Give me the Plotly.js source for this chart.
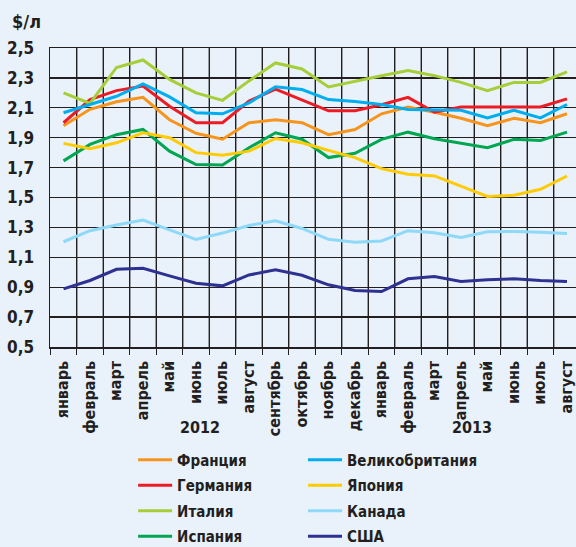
<!DOCTYPE html>
<html>
<head>
<meta charset="utf-8">
<script src="https://cdn.plot.ly/plotly-3.0.1.min.js"></script>
<style>
  html, body { margin: 0; padding: 0; background: #e9f2fa; }
  #chart { width: 576px; height: 547px; }
</style>
</head>
<body>
<div id="chart"></div>
<script>
// Months (Jan 2012 – Aug 2013)
const months = ["январь","февраль","март","апрель","май","июнь","июль","август","сентябрь","октябрь","ноябрь","декабрь",
                "январь","февраль","март","апрель","май","июнь","июль","август"];
const years = ["2012", "2013"];
const yTitle = "$/л";
const yRange = [0.5, 2.5];

// Gasoline price, $ per litre
const france  = [1.98, 2.09, 2.14, 2.17, 2.02, 1.93, 1.89, 2.00, 2.02, 2.00, 1.92, 1.955, 2.06, 2.105, 2.07, 2.03, 1.98, 2.03, 2.00, 2.06];
const germany = [2.00, 2.155, 2.215, 2.245, 2.11, 2.00, 2.00, 2.145, 2.225, 2.155, 2.08, 2.08, 2.12, 2.17, 2.07, 2.105, 2.105, 2.105, 2.105, 2.16];
const italy   = [2.20, 2.13, 2.37, 2.42, 2.29, 2.20, 2.15, 2.28, 2.40, 2.36, 2.24, 2.28, 2.315, 2.35, 2.315, 2.27, 2.215, 2.27, 2.27, 2.34];
const spain   = [1.745, 1.855, 1.92, 1.955, 1.81, 1.72, 1.718, 1.833, 1.933, 1.89, 1.767, 1.796, 1.889, 1.937, 1.893, 1.862, 1.833, 1.889, 1.882, 1.937];
const uk      = [2.067, 2.122, 2.177, 2.26, 2.173, 2.067, 2.06, 2.133, 2.24, 2.222, 2.155, 2.142, 2.122, 2.089, 2.084, 2.084, 2.033, 2.084, 2.033, 2.122];
const japan   = [1.862, 1.827, 1.866, 1.933, 1.90, 1.80, 1.782, 1.81, 1.895, 1.866, 1.815, 1.767, 1.693, 1.655, 1.644, 1.578, 1.507, 1.515, 1.555, 1.644];
const canada  = [1.204, 1.278, 1.316, 1.349, 1.283, 1.22, 1.262, 1.313, 1.344, 1.293, 1.22, 1.20, 1.209, 1.278, 1.264, 1.233, 1.271, 1.273, 1.267, 1.26];
const usa     = [0.889, 0.945, 1.02, 1.027, 0.976, 0.927, 0.909, 0.982, 1.016, 0.98, 0.916, 0.878, 0.871, 0.956, 0.971, 0.938, 0.949, 0.956, 0.944, 0.938];

const xIdx = months.map((m, i) => i);
// month boundaries: vertical grid lines + ticks; labels are shifted into the middle of each month
const boundaries = months.map((m, i) => i - 0.5).concat([months.length - 0.5]);
const boundaryText = months.concat([""]);

const FONT = "'DejaVu Sans Condensed', 'Liberation Sans Narrow', sans-serif";
const INK = "#231f20";

const series = [
  {name: "Франция",        y: france,  color: "#f7941d", legend: "legend"},
  {name: "Германия",       y: germany, color: "#ed1c24", legend: "legend"},
  {name: "Италия",         y: italy,   color: "#a6ce39", legend: "legend"},
  {name: "Испания",        y: spain,   color: "#00a651", legend: "legend"},
  {name: "Великобритания", y: uk,      color: "#00aeef", legend: "legend2"},
  {name: "Япония",         y: japan,   color: "#ffcb05", legend: "legend2"},
  {name: "Канада",         y: canada,  color: "#8ed8f8", legend: "legend2"},
  {name: "США",            y: usa,     color: "#2e3192", legend: "legend2"}
];

// vertical grid drawn through the axes (beneath the data lines)
const gridX = [], gridY = [];
boundaries.slice(1).forEach(b => { gridX.push(b, b, null); gridY.push(yRange[0], yRange[1], null); });
const gridTrace = {
  type: "scatter", mode: "lines", x: gridX, y: gridY,
  line: {color: INK, width: 1.3}, showlegend: false, hoverinfo: "skip", connectgaps: false
};

const traces = [gridTrace].concat(series.map(s => ({
  type: "scatter", mode: "lines", name: s.name, legend: s.legend, legendgroup: s.name,
  x: xIdx, y: s.y,
  line: {color: s.color, width: 3},
  hoverinfo: "skip"
})));

const legendFont = {family: FONT, size: 15, color: INK, weight: "bold"};
const legendBase = {
  orientation: "v", xref: "paper", yref: "paper",
  xanchor: "left", yanchor: "top",
  bgcolor: "rgba(0,0,0,0)", borderwidth: 0,
  font: legendFont, traceorder: "grouped", tracegroupgap: 3, itemwidth: 34
};

const layout = {
  width: 576, height: 547,
  margin: {l: 50, r: 0, t: 48, b: 200, autoexpand: false},
  paper_bgcolor: "#e9f2fa",
  plot_bgcolor: "#e9f2fa",
  separators: ", ",
  font: {family: FONT, color: INK, size: 16, weight: "bold"},
  showlegend: true,
  legend:  Object.assign({}, legendBase, {x: 0.158, y: -0.323}),
  legend2: Object.assign({}, legendBase, {x: 0.481, y: -0.323}),
  xaxis: {
    range: [-0.51, 19.34],
    tickmode: "array", tickvals: boundaries, ticktext: boundaryText,
    tickangle: -90, ticklabelshift: 13,
    ticks: "outside", ticklen: 6, tickcolor: INK, tickwidth: 1.3,
    showgrid: true, gridcolor: INK, gridwidth: 1.3, zeroline: false,
    showline: true, linecolor: INK, linewidth: 1.5, mirror: true,
    tickfont: {family: FONT, size: 16, color: INK, weight: "bold"}
  },
  yaxis: {
    range: yRange, tickmode: "linear", tick0: 0.5, dtick: 0.2,
    tickformat: ".1f",
    ticks: "", showgrid: true, gridcolor: INK, gridwidth: 1.3,
    zeroline: false, showline: true, linecolor: INK, linewidth: 1.5,
    tickfont: {family: FONT, size: 17, color: INK, weight: "bold"},
    ticklabelstandoff: 11
  },
  annotations: [
    {text: yTitle, xref: "paper", yref: "paper", x: -0.076, y: 1.087, xanchor: "left", yanchor: "middle",
     showarrow: false, font: {family: FONT, size: 18, color: INK, weight: "bold"}},
    {text: years[0], xref: "x", yref: "paper", x: 5.15, y: -0.27, xanchor: "center", yanchor: "middle",
     showarrow: false, font: {family: FONT, size: 16, color: INK, weight: "bold"}},
    {text: years[1], xref: "x", yref: "paper", x: 15.4, y: -0.27, xanchor: "center", yanchor: "middle",
     showarrow: false, font: {family: FONT, size: 16, color: INK, weight: "bold"}}
  ]
};

Plotly.newPlot("chart", traces, layout, {displayModeBar: false, staticPlot: true});
</script>
</body>
</html>
